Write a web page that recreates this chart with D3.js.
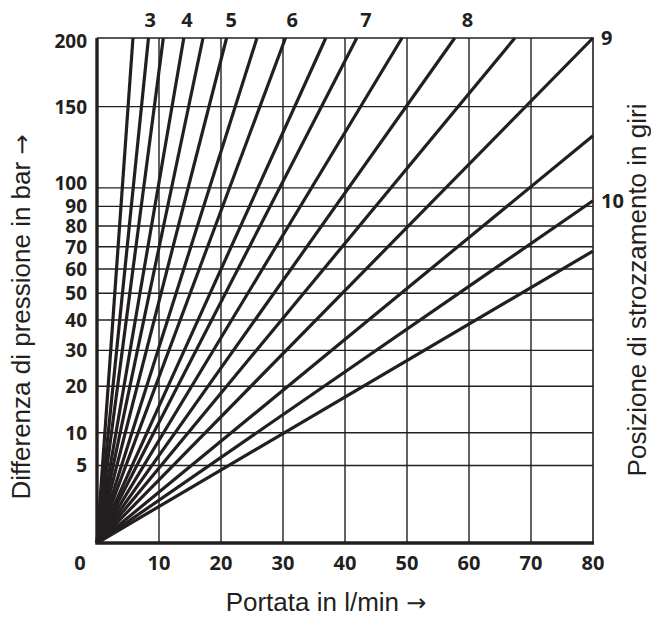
<!DOCTYPE html>
<html>
<head>
<meta charset="utf-8">
<script src="https://cdn.jsdelivr.net/npm/d3@7"></script>
<style>
  html, body { margin: 0; padding: 0; background: #fff; }
  svg { display: block; }
</style>
</head>
<body>
<div id="chart"></div>
<script>
// ===========================
// Throttle valve chart: pressure difference vs flow
// One straight line per throttle position (turns), square-root pressure axis
// ===========================

// ── Data ─────────────────────────────────────────────────────────────────
const turns       = [2.5, 3, 3.5, 4, 4.5, 5, 5.5, 6, 6.5, 7, 7.5, 8, 8.5, 9, 9.5, 10, 10.5];
// where each line leaves the grid (flow l/min, pressure bar)
const endFlow     = [5.8, 8.3, 10.7, 14.0, 17.1, 20.9, 25.8, 30.4, 36.9, 41.9, 49.2, 57.7, 67.4, 80, 80, 80, 80];
const endPressure = [200, 200, 200, 200, 200, 200, 200, 200, 200, 200, 200, 200, 200, 200, 131, 93, 68];

const flowTicks     = [0, 10, 20, 30, 40, 50, 60, 70, 80];
const pressureTicks = [5, 10, 20, 30, 40, 50, 60, 70, 80, 90, 100, 150, 200];

const xTitle     = 'Portata in l/min ';
const yTitle     = 'Differenza di pressione in bar ';
const rightTitle = 'Posizione di strozzamento in giri';
const arrow      = '\u2192';

// ── Layout ────────────────────────────────────────────────────────────────
const width  = 651;
const height = 617;
const plot   = { left: 97, right: 593, top: 38, bottom: 543 };

const tickFont  = '"Open Sans", "DejaVu Sans", sans-serif';
const titleFont = '"Liberation Sans", Arial, sans-serif';
const ink = '#231f20';

// ── Scales ────────────────────────────────────────────────────────────────
const xScale = d3.scaleLinear()
    .domain([0, 80])
    .range([plot.left, plot.right]);

// pressure axis is (roughly) square-root so Δp ~ Q² plots as straight lines
const yScale = d3.scalePow().exponent(0.508)
    .domain([0, 200])
    .range([plot.bottom, plot.top]);

// ── SVG ───────────────────────────────────────────────────────────────────
const svg = d3.select('#chart')
    .append('svg')
    .attr('width', width)
    .attr('height', height);

// ── Grid ──────────────────────────────────────────────────────────────────
const grid = svg.append('g').attr('stroke', ink).attr('stroke-width', 1.4);

grid.selectAll('.vgrid')
    .data(flowTicks.filter(d => d > 0 && d < 80))
    .join('line')
    .attr('x1', d => xScale(d)).attr('x2', d => xScale(d))
    .attr('y1', plot.top).attr('y2', plot.bottom);

grid.selectAll('.hgrid')
    .data(pressureTicks.filter(d => d < 200))
    .join('line')
    .attr('x1', plot.left).attr('x2', plot.right)
    .attr('y1', d => yScale(d)).attr('y2', d => yScale(d));

// top + right border (thin)
svg.append('path')
    .attr('d', 'M' + plot.left + ',' + yScale(200) + 'H' + xScale(80) + 'V' + plot.bottom)
    .attr('fill', 'none').attr('stroke', ink).attr('stroke-width', 1.6);

// ── Throttle lines ────────────────────────────────────────────────────────
const lines = turns.map((t, i) => ({ t, q: endFlow[i], p: endPressure[i] }));

svg.append('g')
    .selectAll('line')
    .data(lines)
    .join('line')
    .attr('x1', xScale(0)).attr('y1', yScale(0))
    .attr('x2', d => xScale(d.q)).attr('y2', d => yScale(d.p))
    .attr('stroke', ink)
    .attr('stroke-width', 3.2)
    .attr('stroke-linecap', 'butt');

// left + bottom axis lines (thick)
svg.append('path')
    .attr('d', 'M' + plot.left + ',' + plot.top + 'V' + plot.bottom + 'H' + (plot.right + 1))
    .attr('fill', 'none').attr('stroke', ink).attr('stroke-width', 3.4);

// ── Line labels (integer turns) ───────────────────────────────────────────
const labelled = lines.filter(d => Number.isInteger(d.t));
const ox = xScale(0), oy = yScale(0);

svg.append('g')
    .selectAll('text')
    .data(labelled)
    .join('text')
    .attr('x', d => {
        const ex = xScale(d.q), ey = yScale(d.p);
        if (d.q >= 80) return ex + 8;
        // extend the line up to the label row
        return ox + (ex - ox) * (oy - 20) / (oy - ey);
    })
    .attr('y', d => d.q >= 80 ? yScale(d.p) : 20)
    .attr('dy', '0.36em')
    .attr('text-anchor', d => d.q >= 80 ? 'start' : 'middle')
    .style('font-family', tickFont).style('font-weight', '700')
    .style('font-size', '20px').style('fill', ink)
    .text(d => d.t);

// ── X tick labels ─────────────────────────────────────────────────────────
svg.append('g')
    .selectAll('text')
    .data(flowTicks)
    .join('text')
    .attr('x', d => xScale(d) + (d === 0 ? -17 : 0))
    .attr('y', 570)
    .attr('text-anchor', 'middle')
    .style('font-family', tickFont).style('font-weight', '700')
    .style('font-size', '20px').style('fill', ink)
    .text(d => d);

// ── Y tick labels ─────────────────────────────────────────────────────────
// labels sit tightly between 60..100, so a touch smaller
svg.append('g')
    .selectAll('text')
    .data(pressureTicks)
    .join('text')
    .attr('x', 87)
    .attr('y', d => yScale(d) + (d === 100 ? -5 : 0) + (d === 200 ? 3 : 0))
    .attr('dy', '0.36em')
    .attr('text-anchor', 'end')
    .style('font-family', tickFont).style('font-weight', '700')
    .style('font-size', '19px').style('fill', ink)
    .text(d => d);

// ── Axis titles ───────────────────────────────────────────────────────────
function titleText(sel, label, withArrow) {
    sel.attr('text-anchor', 'middle')
        .style('font-family', titleFont).style('font-size', '26px').style('fill', ink);
    sel.append('tspan').text(label);
    if (withArrow) {
        sel.append('tspan')
            .style('font-family', '"DejaVu Sans", sans-serif')
            .style('font-size', '24px')
            .text(arrow);
    }
}

svg.append('text')
    .attr('x', 326).attr('y', 611)
    .call(titleText, xTitle, true);

svg.append('text')
    .attr('transform', 'translate(30,317) rotate(-90)')
    .call(titleText, yTitle, true);

svg.append('text')
    .attr('transform', 'translate(646,290) rotate(-90)')
    .call(titleText, rightTitle, false);
</script>
</body>
</html>
